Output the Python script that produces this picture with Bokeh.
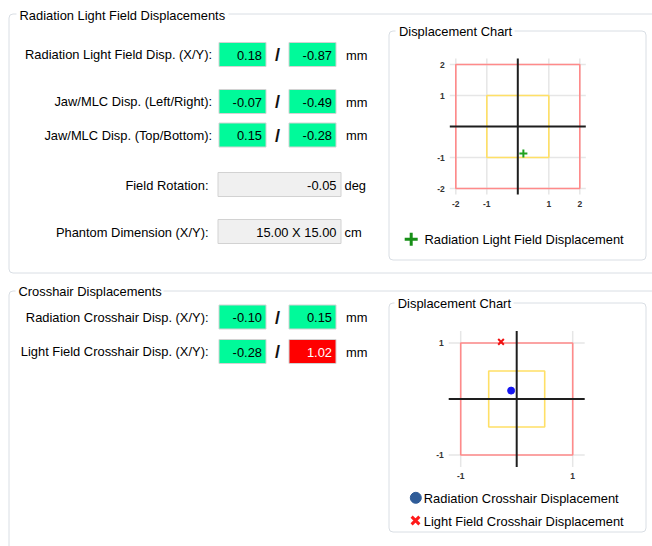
from bokeh.plotting import figure
from bokeh.models import Range1d
from bokeh.core.properties import value
from bokeh.embed import file_html
from bokeh.resources import INLINE

# ---------------- data ----------------
pair_labels = ["Radiation Light Field Disp. (X/Y):",
               "Jaw/MLC Disp. (Left/Right):",
               "Jaw/MLC Disp. (Top/Bottom):",
               "Radiation Crosshair Disp. (X/Y):",
               "Light Field Crosshair Disp. (X/Y):"]
rlf_disp = [0.18, -0.87]
jaw_lr_disp = [-0.07, -0.49]
jaw_tb_disp = [0.15, -0.28]
rad_cross_disp = [-0.10, 0.15]
lf_cross_disp = [-0.28, 1.02]
pair_tolerance = [2.0, 2.0, 2.0, 1.0, 1.0]
pair_unit = "mm"

single_labels = ["Field Rotation:", "Phantom Dimension (X/Y):"]
field_rotation = -0.05
phantom_dim = [15.00, 15.00]
single_units = ["deg", "cm"]

group_titles = ["Radiation Light Field Displacements", "Crosshair Displacements"]
chart_title = "Displacement Chart"

chart1_ticks = [-2, -1, 1, 2]
chart1_limits = [1.0, 2.0]      # warning (yellow) / tolerance (red) squares
chart2_ticks = [-1, 1]
chart2_limits = [0.5, 1.0]
legend1_labels = ["Radiation Light Field Displacement"]
legend2_labels = ["Radiation Crosshair Displacement", "Light Field Crosshair Displacement"]

# ---------------- styles / layout ----------------
FONT = value("Liberation Sans")
FS = value("12.9px")
GREEN = "#00FA9A"
RED = "#FF0000"
GRAYBOX = "#F0F0F0"
BOXLINE = "#D2D2D2"
GBLINE = "#D9DEE4"

W, H = 652, 546
X0, Y0 = 0, 0   # layout coordinates are page pixels

p = figure(width=W, height=H, x_range=Range1d(X0, X0 + W), y_range=Range1d(Y0 + H, Y0),
           output_backend="svg", toolbar_location=None, min_border=0,
           x_axis_type=None, y_axis_type=None)
p.outline_line_color = None
p.background_fill_color = "white"
p.border_fill_color = "white"

# chart placements (page px centre, px per unit)
charts = [dict(name="c1", cx=517.3, cy=126.0, scale=31.0, ticks=chart1_ticks, limits=chart1_limits),
          dict(name="c2", cx=516.2, cy=398.5, scale=56.0, ticks=chart2_ticks, limits=chart2_limits)]
HALF = 68.0
xr, yr = {}, {}
for c in charts:
    s = c["scale"]
    xr[c["name"] + "x"] = Range1d((X0 - c["cx"]) / s, (X0 + W - c["cx"]) / s)
    yr[c["name"] + "y"] = Range1d((c["cy"] - (Y0 + H)) / s, (c["cy"] - Y0) / s)
p.extra_x_ranges = xr
p.extra_y_ranges = yr

# ---------------- group boxes ----------------
p.quad(left=[8.5, 8.5], right=[700, 700], top=[13.5, 290.5], bottom=[272.5, 620],
       fill_color=None, line_color=GBLINE, line_width=1, border_radius=4)
p.quad(left=[388.5, 388.5], right=[645.5, 645.5], top=[30.5, 302.5], bottom=[259.5, 531.5],
       fill_color=None, line_color=GBLINE, line_width=1, border_radius=4)
# caption backgrounds
p.quad(left=[16, 15, 395, 394], right=[228, 163, 514, 513], top=[7, 284, 24, 296],
       bottom=[21, 298, 38, 310], fill_color="white", line_color=None)
p.text(x=[19, 18], y=[14.5, 290.8], text=group_titles, text_font=FONT, text_font_size=FS,
       text_baseline="middle", text_align="left", text_color="black")
p.text(x=[398.5, 397.3], y=[31, 303.3], text=[chart_title, chart_title], text_font=FONT,
       text_font_size=FS, text_baseline="middle", text_align="left", text_color="black")

# ---------------- value rows ----------------
pairs = [rlf_disp, jaw_lr_disp, jaw_tb_disp, rad_cross_disp, lf_cross_disp]
rows_y = [54.0, 101.0, 134.5, 316.5, 351.0]
label_right = [211.5, 211.5, 211.5, 208.0, 208.0]
BOXES_X = [(218.5, 265.5), (288.5, 335.5)]

L, R, T, B, F, TX, TXT, TC = [], [], [], [], [], [], [], []
for vals, tol, yc in zip(pairs, pair_tolerance, rows_y):
    for v, (bl, br) in zip(vals, BOXES_X):
        bad = abs(v) > tol
        L.append(bl); R.append(br); T.append(yc - 12); B.append(yc + 12)
        F.append(RED if bad else GREEN)
        TX.append(br - 4); TXT.append(f"{v:.2f}"); TC.append("white" if bad else "black")

single_y = [184.0, 231.0]
single_text = [f"{field_rotation:.2f}", f"{phantom_dim[0]:.2f} X {phantom_dim[1]:.2f}"]
for yc, t in zip(single_y, single_text):
    L.append(217.5); R.append(340.5); T.append(yc - 12); B.append(yc + 12)
    F.append(GRAYBOX); TX.append(336); TXT.append(t); TC.append("black")

p.quad(left=L, right=R, top=T, bottom=B, fill_color=F, line_color=BOXLINE, line_width=1)
p.text(x=TX, y=[(t + b) / 2 + 0.5 for t, b in zip(T, B)], text=TXT, text_color=TC,
       text_font=FONT, text_font_size=FS, text_align="right", text_baseline="middle")

# labels
p.text(x=label_right + [208.0, 208.0], y=[y + 0.3 for y in rows_y] + [y + 0.8 for y in single_y],
       text=pair_labels + single_labels, text_font=FONT, text_font_size=FS,
       text_align="right", text_baseline="middle", text_color="black")
# slashes
p.text(x=[277] * len(rows_y), y=[y + 0.5 for y in rows_y], text=["/"] * len(rows_y),
       text_font=FONT, text_font_size=value("18px"), text_font_style="bold",
       text_align="center", text_baseline="middle", text_color="#111111")
# units
p.text(x=[345.5] * len(rows_y) + [344, 344], y=[y + 0.8 for y in rows_y] + [y + 0.8 for y in single_y],
       text=[pair_unit] * len(rows_y) + single_units, text_font=FONT, text_font_size=FS,
       text_align="left", text_baseline="middle", text_color="black")

# ---------------- displacement charts ----------------
for c in charts:
    s = c["scale"]
    kw = dict(x_range_name=c["name"] + "x", y_range_name=c["name"] + "y")
    lim = HALF / s
    t = c["ticks"]
    n = len(t)
    p.segment(x0=t, x1=t, y0=[-lim] * n, y1=[lim] * n, line_color="#E6E6E6", line_width=1.5, **kw)
    p.segment(x0=[-lim] * n, x1=[lim] * n, y0=t, y1=t, line_color="#E6E6E6", line_width=1.5, **kw)
    warn, tol = c["limits"]
    p.quad(left=[-warn], right=[warn], bottom=[-warn], top=[warn], fill_color=None,
           line_color="#FFE066", line_width=1.6, **kw)
    p.quad(left=[-tol], right=[tol], bottom=[-tol], top=[tol], fill_color=None,
           line_color="#FF8A8A", line_width=1.6, **kw)
    p.segment(x0=[-lim, 0], x1=[lim, 0], y0=[0, -lim], y1=[0, lim], line_color="#1E1E1E",
              line_width=2, **kw)
    p.text(x=t, y=[-lim] * n, y_offset=9, text=[str(v) for v in t], text_font=FONT,
           text_font_size=value("8.5px"), text_font_style="bold", text_color="#333333",
           text_align="center", text_baseline="middle", **kw)
    p.text(x=[-lim] * n, y=t, x_offset=-5, text=[str(v) for v in t], text_font=FONT,
           text_font_size=value("8.5px"), text_font_style="bold", text_color="#333333",
           text_align="right", text_baseline="middle", **kw)

k1 = dict(x_range_name="c1x", y_range_name="c1y")
k2 = dict(x_range_name="c2x", y_range_name="c2y")
p.scatter(x=[rlf_disp[0]], y=[rlf_disp[1]], marker="cross", size=8, line_width=2,
          line_color="#1FA21F", **k1)
p.scatter(x=[rad_cross_disp[0]], y=[rad_cross_disp[1]], marker="circle", size=7,
          fill_color="#1515F0", line_color="#1515F0", **k2)
p.scatter(x=[lf_cross_disp[0]], y=[lf_cross_disp[1]], marker="x", size=8, line_width=2,
          line_color="#F01010", **k2)

# ---------------- legends ----------------
p.scatter(x=[410.7], y=[238.7], marker="cross", size=13, line_width=3, line_color="#178F17")
p.scatter(x=[415.3], y=[497.3], marker="circle", size=11, fill_color="#2F5C98", line_color="#2F5C98")
p.scatter(x=[415.0], y=[520.0], marker="x", size=11, line_width=3, line_color="#FF1A1A")
p.text(x=[424, 423.3, 423.3], y=[239.3, 497.8, 520.5], text=legend1_labels + legend2_labels,
       text_font=FONT, text_font_size=FS, text_align="left", text_baseline="middle",
       text_color="black")

open("out.html", "w").write(file_html(p, INLINE))
